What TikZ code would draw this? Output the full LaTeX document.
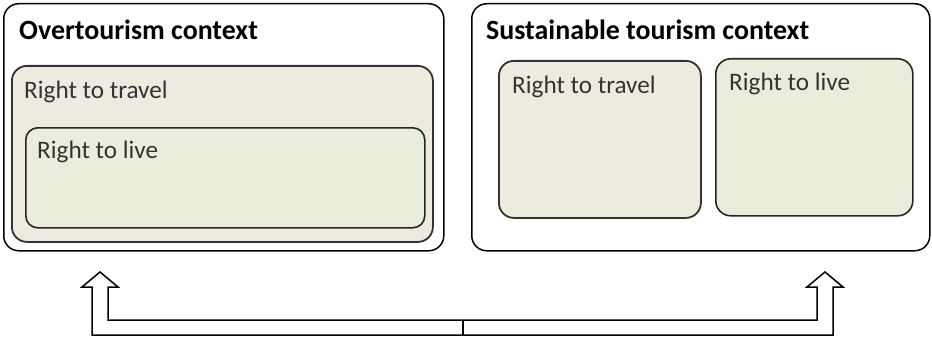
\documentclass[tikz,border=0pt]{standalone}
\usepackage{fontspec}
\setmainfont{Carlito}
\definecolor{travelfill}{HTML}{EDEBE0}
\definecolor{livefill}{HTML}{E9EEDC}
\begin{document}
\begin{tikzpicture}[
  x=1pt, y=-1pt,
  frame/.style={draw, line width=1.5pt, rounded corners=15pt, anchor=north west, inner sep=0pt},
  travelbox/.style={frame, fill=travelfill, draw=black!80, line width=1.8pt},
  livebox/.style={frame, fill=livefill, draw=black!85, line width=1.6pt, rounded corners=12pt},
  title/.style={anchor=base west, inner sep=0pt, font=\fontsize{27.9}{33}\selectfont\bfseries},
  label/.style={anchor=base west, inner sep=0pt, font=\fontsize{25.2}{30}\selectfont, text=black!80},
  outline/.style={draw, line width=1.5pt, line join=miter}
]
\useasboundingbox (0,0) rectangle (932,337);

% overtourism side
\node[frame, minimum width=440pt, minimum height=247pt] (over) at (3,3) {};
\node[travelbox, minimum width=421pt, minimum height=176pt] (overtravel) at (11,65) {};
\node[livebox, minimum width=399pt, minimum height=100pt] (overlive) at (25,127) {};
\node[title] (overtitle) at (19,40) {Overtourism context};
\node[label] (overtraveltxt) at (24,99) {Right to travel};
\node[label] (overlivetxt) at (37,158) {Right to live};

% sustainable side
\node[frame, minimum width=458pt, minimum height=247pt] (sust) at (471,3) {};
\node[travelbox, minimum width=202pt, minimum height=157pt] (susttravel) at (498,60) {};
\node[livebox, rounded corners=15pt, minimum width=197pt, minimum height=157pt] (sustlive) at (715,58) {};
\node[title] (susttitle) at (486,40) {Sustainable tourism context};
\node[label] (susttraveltxt) at (512,94) {Right to travel};
\node[label] (sustlivetxt) at (729,91) {Right to live};

% double arrow underneath
\coordinate (mid) at (463,335);
\draw[outline] (mid) -- (92,335) -- (92,287) -- (82,287) -- (100,272) -- (118,287)
  -- (108,287) -- (108,320) -- (817,320) -- (817,287) -- (807,287) -- (825,272)
  -- (843,287) -- (833,287) -- (833,335) -- cycle;
\draw[outline] (mid) -- (463,320);
\end{tikzpicture}
\end{document}
